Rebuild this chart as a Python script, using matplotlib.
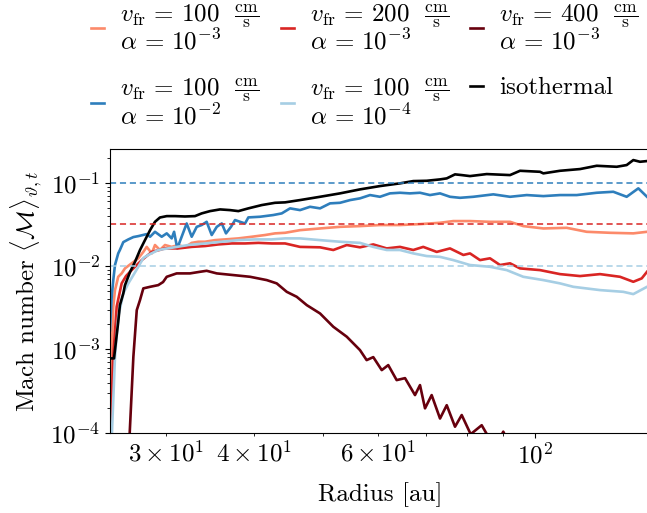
import matplotlib
matplotlib.use("Agg")
import matplotlib.pyplot as plt
from matplotlib import cm

plt.rcParams["font.family"] = "serif"
plt.rcParams["font.serif"] = ["cmr10"]
plt.rcParams["mathtext.fontset"] = "cm"
plt.rcParams["axes.unicode_minus"] = False
plt.rcParams["axes.formatter.use_mathtext"] = True
plt.rcParams["font.size"] = 18

# isothermal run
r_iso = [25.02, 25.35, 25.57, 25.70, 25.84, 26.13, 26.27, 26.71, 27.15, 27.59,
         28.04, 28.51, 28.97, 29.44, 30.10, 30.93, 31.94, 33.00, 33.73, 34.66,
         35.81, 36.99, 38.01, 39.27, 41.02, 42.83, 44.26, 46.47, 49.60, 52.93,
         56.49, 60.29, 64.35, 67.20, 70.21, 73.32, 74.94, 76.99, 78.69, 80.84,
         85.37, 92.10, 95.15, 101.55, 102.66, 108.39, 115.70, 122.15, 130.37,
         134.68, 137.62, 140.67, 143.9]
m_iso = [7.8e-4, 7.8e-4, 1.48e-3, 2.13e-3, 3.4e-3, 4.7e-3, 5.9e-3, 8.5e-3, 0.0113, 0.0156,
         0.0205, 0.0270, 0.0340, 0.0383, 0.0398, 0.0398, 0.0394, 0.0398, 0.0429, 0.0457,
         0.0479, 0.0470, 0.0457, 0.0493, 0.0540, 0.0575, 0.0582, 0.0620, 0.0679, 0.0746,
         0.0833, 0.0913, 0.0984, 0.1048, 0.1057, 0.1098, 0.1129, 0.1262, 0.1237, 0.1203,
         0.1272, 0.1237, 0.1393, 0.1355, 0.1297, 0.1393, 0.1461, 0.1600, 0.1556,
         0.1632, 0.1873, 0.1787, 0.1822]

# v_fr = 100 cm/s, alpha = 1e-2
r_a2 = [25.02, 25.16, 25.29, 25.43, 25.70, 25.84, 26.13, 26.56, 27.00, 27.44,
        28.20, 28.51, 28.97, 29.61, 30.10, 30.59, 30.83, 31.15, 31.60, 32.12,
        32.65, 33.19, 33.73, 34.28, 34.85, 35.43, 36.01, 36.51, 37.11, 37.60,
        38.22, 38.85, 39.27, 40.79, 42.59, 43.78, 44.98, 46.47, 48.01, 49.60,
        51.24, 52.93, 54.70, 56.49, 58.37, 60.29, 62.28, 64.35, 66.47, 68.69,
        70.96, 73.32, 75.74, 78.26, 81.72, 87.22, 92.10, 97.25, 102.66, 108.39,
        114.45, 122.15, 128.94, 134.68, 139.89, 143.9]
m_a2 = [1.7e-3, 4.3e-3, 6.8e-3, 0.0103, 0.0142, 0.0156, 0.0194, 0.0209, 0.0223, 0.0229,
        0.0242, 0.0225, 0.0258, 0.0225, 0.0247, 0.0215, 0.0258, 0.0163, 0.0225, 0.0325,
        0.0225, 0.0296, 0.0311, 0.0340, 0.0236, 0.0296, 0.0325, 0.0247, 0.0296, 0.0357,
        0.0340, 0.0325, 0.0384, 0.0391, 0.0410, 0.0429, 0.0493, 0.0470, 0.0515, 0.0493,
        0.0566, 0.0575, 0.0620, 0.0650, 0.0712, 0.0679, 0.0746, 0.0759, 0.0746, 0.0759,
        0.0712, 0.0746, 0.0679, 0.0660, 0.0679, 0.0726, 0.0679, 0.0712, 0.0692, 0.0712,
        0.0712, 0.0759, 0.0780, 0.0679, 0.0857, 0.0679]

# v_fr = 100 cm/s, alpha = 1e-3
r_v100 = [25.10, 25.22, 25.29, 25.43, 25.57, 25.70, 25.99, 26.27, 26.85, 27.44,
          27.89, 28.20, 28.67, 28.97, 29.44, 29.93, 30.59, 31.25, 31.94, 32.65,
          33.36, 34.10, 35.23, 36.39, 38.01, 39.71, 41.47, 42.83, 44.26, 46.47,
          49.60, 52.93, 56.49, 60.29, 64.35, 68.69, 73.32, 76.56, 80.84, 86.28,
          92.10, 96.16, 102.66, 110.77, 118.23, 127.55, 137.62, 143.9]
m_v100 = [2.46e-4, 1.7e-3, 3.25e-3, 5.15e-3, 6.2e-3, 7.44e-3, 8.17e-3, 9.38e-3, 0.0108, 0.0124,
          0.0148, 0.0170, 0.0142, 0.0179, 0.0156, 0.0179, 0.0170, 0.0179, 0.0168, 0.0190,
          0.0196, 0.0196, 0.0205, 0.0209, 0.0215, 0.0225, 0.0236, 0.0247, 0.0251, 0.0270,
          0.0283, 0.0296, 0.0302, 0.0311, 0.0311, 0.0319, 0.0331, 0.0347, 0.0347, 0.0340,
          0.0340, 0.0302, 0.0283, 0.0288, 0.0258, 0.0251, 0.0247, 0.0258]

# v_fr = 200 cm/s, alpha = 1e-3
r_v200 = [25.06, 25.29, 25.57, 25.99, 26.36, 26.85, 27.75, 28.67, 29.93, 31.25,
          32.65, 34.10, 35.61, 37.20, 38.85, 40.57, 42.38, 44.26, 46.47, 49.60,
          51.79, 54.11, 56.49, 58.99, 61.63, 64.35, 67.20, 69.42, 72.53, 75.74,
          79.11, 80.84, 83.52, 86.28, 89.15, 92.10, 95.15, 101.55, 108.39, 115.70,
          123.48, 131.79, 137.62, 141.45, 143.9]
m_v200 = [1.0e-4, 8.15e-4, 3.25e-3, 6.2e-3, 7.59e-3, 8.95e-3, 0.0118, 0.0148, 0.0163, 0.0163,
          0.0170, 0.0174, 0.0182, 0.0187, 0.0187, 0.0190, 0.0187, 0.0187, 0.0170, 0.0168,
          0.0156, 0.0179, 0.0168, 0.0182, 0.0163, 0.0170, 0.0156, 0.0170, 0.0148, 0.0163,
          0.0136, 0.0142, 0.0118, 0.0124, 0.0103, 0.0108, 9.38e-3, 8.95e-3, 8.01e-3, 7.59e-3,
          8.01e-3, 7.44e-3, 6.48e-3, 7.12e-3, 8.54e-3]

# v_fr = 400 cm/s, alpha = 1e-3
r_v400 = [26.65, 27.00, 27.30, 27.59, 27.89, 28.51, 29.28, 29.74, 30.10, 31.09,
          32.47, 33.54, 34.28, 35.43, 37.39, 39.49, 41.69, 43.07, 44.50, 45.97,
          47.50, 49.60, 51.79, 54.11, 56.49, 57.73, 58.99, 60.64, 61.94, 63.66,
          65.42, 67.58, 68.69, 69.82, 71.35, 73.32, 74.94, 76.99, 78.69, 81.02,
          83.98, 85.72, 87.98, 90.10, 92.10]
m_v400 = [8.15e-5, 8.15e-4, 2.96e-3, 3.91e-3, 5.4e-3, 5.64e-3, 5.91e-3, 6.43e-3, 7.44e-3, 8.17e-3,
          8.17e-3, 8.54e-3, 8.78e-3, 8.17e-3, 7.80e-3, 7.44e-3, 6.79e-3, 6.2e-3, 4.91e-3, 4.28e-3,
          3.4e-3, 2.7e-3, 1.87e-3, 1.42e-3, 9.81e-4, 7.44e-4, 8.08e-4, 5.64e-4, 6.48e-4, 4.28e-4,
          4.52e-4, 2.83e-4, 3.73e-4, 1.96e-4, 2.83e-4, 1.48e-4, 2.14e-4, 1.18e-4, 1.63e-4, 9.6e-5,
          1.23e-4, 9.1e-5, 7.0e-5, 1.03e-4, 7.0e-5]

# v_fr = 100 cm/s, alpha = 1e-4
r_a4 = [25.18, 25.43, 25.70, 26.13, 26.56, 27.00, 27.44, 27.89, 28.35, 29.28,
        30.59, 32.29, 34.10, 36.01, 38.01, 40.13, 42.38, 44.26, 46.47, 49.60,
        52.93, 56.49, 58.99, 61.63, 64.35, 67.20, 70.21, 73.32, 76.56, 80.84,
        86.28, 91.12, 96.16, 102.66, 108.39, 113.19, 123.48, 133.20, 137.62, 143.9]
m_a4 = [1.0e-4, 8.15e-4, 2.46e-3, 4.7e-3, 6.2e-3, 7.8e-3, 9.81e-3, 0.0125, 0.0136, 0.0156,
        0.0166, 0.0179, 0.0187, 0.0196, 0.0205, 0.0209, 0.0209, 0.0215, 0.0215, 0.0205,
        0.0196, 0.0190, 0.0170, 0.0156, 0.0156, 0.0142, 0.0132, 0.0129, 0.0118, 0.0103,
        9.81e-3, 8.95e-3, 7.44e-3, 6.79e-3, 6.2e-3, 5.64e-3, 5.15e-3, 4.91e-3, 4.61e-3, 5.64e-3]

reds = cm.Reds
blues = cm.Blues
c_v100 = reds(0.4)
c_v200 = reds(0.7)
c_v400 = reds(1.0)
c_a2 = blues(0.7)
c_a4 = blues(0.35)


def label(vfr, alpha_exp):
    return (r"$v_\mathrm{fr} \,=\, %d\;\;\, \frac{\mathrm{cm}}{\mathrm{s}}$" % vfr + "\n"
            + r"$\alpha \,=\, 10^{%d}$" % alpha_exp)


fig = plt.figure(figsize=(6.47, 5.13), dpi=100)
ax = fig.add_axes([0.170, 0.1565, 0.8346, 0.5524])

lw = 1.9
ax.plot(r_v100, m_v100, color=c_v100, lw=lw, label=label(100, -3))
ax.plot(r_a2, m_a2, color=c_a2, lw=lw, label=label(100, -2))
ax.plot(r_v200, m_v200, color=c_v200, lw=lw, label=label(200, -3))
ax.plot(r_a4, m_a4, color=c_a4, lw=lw, label=label(100, -4))
ax.plot(r_v400, m_v400, color=c_v400, lw=lw, label=label(400, -3))
ax.plot(r_iso, m_iso, color="black", lw=lw, label="isothermal")

# sqrt(alpha) reference levels
ax.axhline(1e-2 ** 0.5, color=c_a2, lw=1.1, ls=(0, (4, 2.5)))
ax.axhline(1e-3 ** 0.5, color=c_v200, lw=1.1, ls=(0, (4, 2.5)))
ax.axhline(1e-4 ** 0.5, color=c_a4, lw=1.1, ls=(0, (4, 2.5)))

ax.set_xscale("log")
ax.set_yscale("log")
ax.set_xlim(25.02, 145.3)
ax.set_ylim(1e-4, 0.252)
ax.set_xlabel("Radius [au]", labelpad=10)
ax.set_ylabel(r"Mach number $\langle \mathcal{M} \rangle_{\vartheta,t}$")
ax.spines["right"].set_visible(False)

leg = fig.legend(loc="upper left", bbox_to_anchor=(0.1406, 0.996), ncol=3, frameon=False,
                 borderaxespad=0, borderpad=0, handlelength=0.52, handletextpad=0.65,
                 columnspacing=0.85, labelspacing=0.9)
for t in leg.get_texts():
    t.set_linespacing(0.95)

fig.savefig("out.png", dpi=100)
